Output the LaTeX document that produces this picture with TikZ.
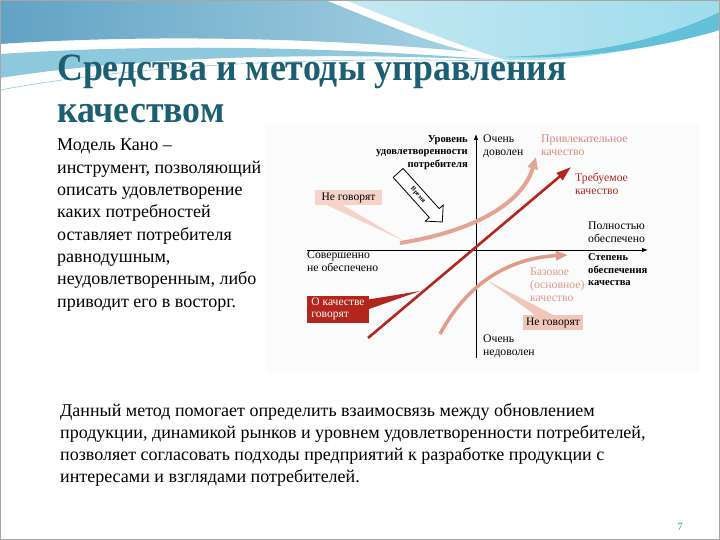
\documentclass[tikz,border=0pt]{standalone}
\usepackage{fontspec}
\setmainfont{Liberation Serif}
\usetikzlibrary{shapes.arrows,arrows.meta,calc}
\definecolor{ttl}{HTML}{1C5E72}
\definecolor{hdrA}{HTML}{62A2C4}
\definecolor{hdrB}{HTML}{A6D2E4}
\definecolor{hdrC}{HTML}{8EC8DD}
\definecolor{cyanA}{HTML}{C4E8F2}
\definecolor{cyanB}{HTML}{9FDCEC}
\definecolor{cyanD}{HTML}{62C0D8}
\definecolor{redq}{HTML}{B3261E}
\definecolor{attrc}{HTML}{E3A494}
\definecolor{basec}{HTML}{E29A89}
\definecolor{attrt}{HTML}{D58A7C}
\definecolor{baset}{HTML}{DD9A8A}
\definecolor{ngfill}{HTML}{F5D3C8}
\definecolor{ngfill2}{HTML}{F0C6B8}
\definecolor{pnum}{HTML}{3A8EA0}
\tikzset{
  titletext/.style={anchor=base west, inner sep=0, text=ttl, font=\fontsize{35.8}{40}\selectfont\bfseries},
  bodytext/.style={anchor=base west, inner sep=0, font=\fontsize{18}{22}\selectfont},
  lbl/.style={anchor=north west, inner sep=0, align=left, font=\fontsize{11.7}{13}\selectfont},
  lblr/.style={anchor=north east, inner sep=0, align=right, font=\fontsize{10.6}{12.5}\selectfont\bfseries},
  axis/.style={line width=0.8, -{Latex[length=6,width=4.5]}},
  callbox/.style={inner sep=0, minimum height=15, font=\fontsize{11.5}{12.5}\selectfont},
}
\begin{document}
\begin{tikzpicture}[x=1pt,y=-1pt]
\useasboundingbox (0,0) rectangle (720,540);
\fill[white] (0,0) rectangle (720,540);
% header
\shade[left color=hdrA, right color=hdrB] (0,0) -- (325,0) .. controls (380,22) and (420,40) .. (470,52) .. controls (330,38) and (150,34) .. (0,44) -- cycle;
\shade[left color=cyanA, right color=cyanB] (345,0) -- (720,0) -- (720,22) .. controls (650,50) and (580,62) .. (505,60) .. controls (450,42) and (395,20) .. (345,0) -- cycle;
\fill[cyanD] (720,12) .. controls (650,45) and (580,55) .. (500,57) .. controls (580,60) and (660,48) .. (720,30) -- cycle;
\fill[hdrC] (0,54) .. controls (150,44) and (320,46) .. (500,60) .. controls (320,52) and (140,56) .. (0,78) -- cycle;
\draw[hdrC, line width=0.6] (0,90) .. controls (150,62) and (350,56) .. (520,62);
% frame
\draw[ttl!70!black, line width=1.5] (0,0.75) -- (720,0.75);
\draw[gray!70, line width=1] (0.5,0.5) rectangle (719.5,539.5);

% title
\node[titletext] (t1) at (57,81) {\scalebox{1}[1.08]{Средства и методы управления}};
\node[titletext] (t2) at (57,123) {\scalebox{1}[1.08]{качеством}};

% left text
\node[bodytext] (l1) at (57,151) {Модель Кано –};
\node[bodytext] (l2) at (57,173.3) {инструмент, позволяющий};
\node[bodytext] (l3) at (57,195.6) {описать удовлетворение};
\node[bodytext] (l4) at (57,217.9) {каких потребностей};
\node[bodytext] (l5) at (57,240.2) {оставляет потребителя};
\node[bodytext] (l6) at (57,262.5) {равнодушным,};
\node[bodytext] (l7) at (57,284.8) {неудовлетворенным, либо};
\node[bodytext] (l8) at (57,307.1) {приводит его в восторг.};

% bottom text
\node[bodytext] (b1) at (60,416) {Данный метод помогает определить взаимосвязь между обновлением};
\node[bodytext] (b2) at (60,438.3) {продукции, динамикой рынков и уровнем удовлетворенности потребителей,};
\node[bodytext] (b3) at (60,460.6) {позволяет согласовать подходы предприятий к разработке продукции с};
\node[bodytext] (b4) at (60,482.9) {интересами и взглядами потребителей.};

\node[anchor=base, inner sep=0, text=pnum, font=\fontsize{11}{12}\selectfont] (pn) at (680,530) {7};

% diagram background
\fill[gray!3] (266,125) rectangle (700,372);

% axes
\coordinate (vb) at (476,358);
\coordinate (vt) at (476,134);
\coordinate (hl) at (307,250);
\coordinate (hr) at (648,250);
\draw[axis] (vb) -- (vt);
\draw[axis] (hl) -- (hr);

% curves
\coordinate (a0) at (400,243);
\coordinate (a1) at (536,157);
\draw[attrc, line width=4, -{Triangle[length=12,width=10]}] (a0) .. controls (470,232) and (522,205) .. (a1);
\coordinate (c0) at (440,334);
\coordinate (c1) at (568,255);
\draw[basec, line width=3.5, -{Triangle[length=12,width=9]}] (c0) .. controls (468,282) and (510,258) .. (c1);
\coordinate (r0) at (368,338);
\coordinate (r1) at (571,167);
\draw[redq, line width=2.6, -{Triangle[length=15,width=9]}] (r0) -- (r1);

% callouts
\node[callbox, fill=ngfill, minimum width=67] (ng1) at (348.5,197.5) {Не говорят};
\coordinate (w1) at (404,241);
\fill[ngfill] ($(ng1.south west)!0.18!(ng1.south east)$) -- (w1) -- ($(ng1.south west)!0.42!(ng1.south east)$) -- cycle;

\node[callbox, fill=ngfill2, minimum width=60] (ng2) at (553,322.5) {Не говорят};
\coordinate (w2) at (488,281);
\fill[ngfill2] ($(ng2.north west)!0.2!(ng2.north east)$) -- (w2) -- ($(ng2.north west)!0.5!(ng2.north east)$) -- cycle;

\node[callbox, fill=redq, text=white, minimum width=62, minimum height=27, align=left] (oq) at (338,309) {О качестве\\говорят};
\coordinate (w3) at (420,291);
\fill[redq] ($(oq.north east)!0.15!(oq.south east)$) -- (w3) -- ($(oq.north east)!0.5!(oq.south east)$) -- cycle;

% time arrow
\node[single arrow, draw, fill=white, line width=0.8, rotate=-48, minimum height=66, minimum width=24, single arrow head extend=5, inner xsep=2, inner ysep=3, font=\fontsize{6.5}{7}\selectfont\bfseries] (time) at (418,195) {Время};

% labels
\node[lblr] (ly) at (468,135) {Уровень\\удовлетворенности\\потребителя};
\node[lbl] (lok) at (483,134.5) {Очень\\доволен};
\node[lbl, text=attrt] (lattr) at (541,134.5) {Привлекательное\\качество};
\node[lbl, text=redq] (lreq) at (575,172.5) {Требуемое\\качество};
\node[lbl] (lfull) at (588,221.5) {Полностью\\обеспечено};
\node[lbl, font=\fontsize{10.6}{12.8}\selectfont\bfseries] (lx) at (588,253) {Степень\\обеспечения\\качества};
\node[lbl, text=baset] (lbase) at (530,267.5) {Базовое\\(основное)\\качество};
\node[lbl] (lbad) at (483,334.5) {Очень\\недоволен};
\node[lbl] (lnone) at (307,250.5) {Совершенно\\не обеспечено};
\end{tikzpicture}
\end{document}
